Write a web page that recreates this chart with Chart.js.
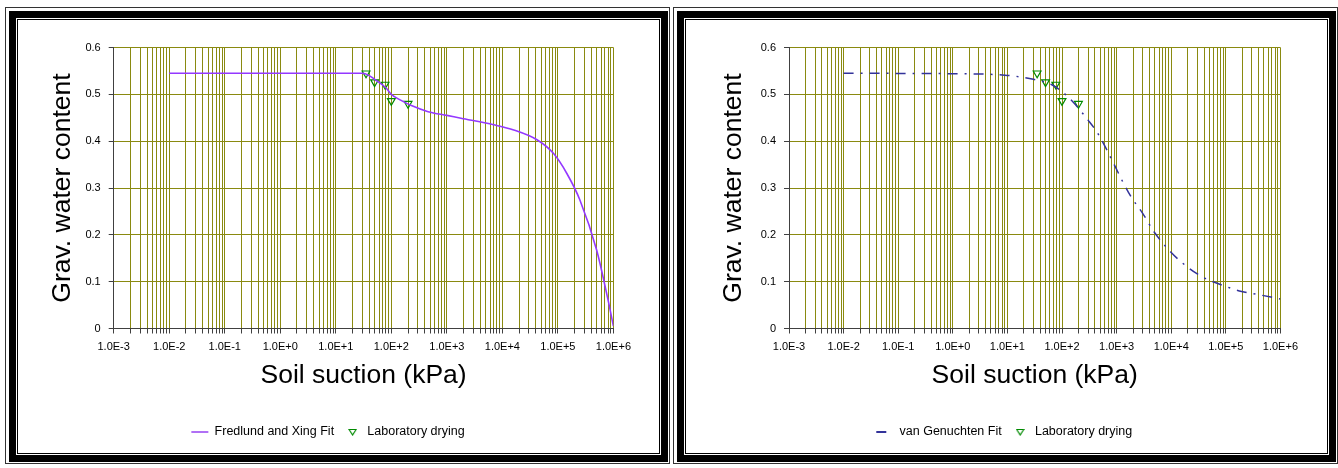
<!DOCTYPE html>
<html>
<head>
<meta charset="utf-8">
<script src="https://cdn.jsdelivr.net/npm/chart.js@4.4.1/dist/chart.umd.min.js"></script>
<style>
  html, body { margin: 0; padding: 0; background: #fff; }
  body { position: relative; width: 1338px; height: 468px; overflow: hidden; font-family: "Liberation Sans", Arial, sans-serif; }
  .frame { position: absolute; top: 7px; width: 665px; height: 457px; box-sizing: border-box;
           border: 1px solid #333; padding: 3px 1px 1px 3px; background: #fff; }
  .thick { height: 100%; box-sizing: border-box; border: 7px solid #000; padding: 1px; }
  .thin { height: 100%; box-sizing: border-box; border: 1px solid #000; background: #fff; }
  canvas { position: absolute; top: 20px; }
</style>
</head>
<body>
<div class="frame" style="left:5px"><div class="thick"><div class="thin"></div></div></div>
<div class="frame" style="left:673px"><div class="thick"><div class="thin"></div></div></div>
<canvas id="fxChart" width="620" height="432" style="left:18px"></canvas>
<canvas id="vgChart" width="619" height="432" style="left:686px"></canvas>
<script>
// Eixo x logarítmico: décadas e rótulos no formato do Excel
const xDecades = [-3, -2, -1, 0, 1, 2, 3, 4, 5, 6];
const xTickLabels = ['1.0E-3', '1.0E-2', '1.0E-1', '1.0E+0', '1.0E+1', '1.0E+2', '1.0E+3', '1.0E+4', '1.0E+5', '1.0E+6'];

// Ajuste de Fredlund e Xing (sucção kPa / teor de umidade gravimétrico)
const fxSuction = [0.01, 30, 40, 50, 80, 100, 150, 230, 460, 1000, 1800, 7000, 16000, 42000, 83000, 145000, 250000, 500000, 800000, 1000000];
const fxWater = [0.545, 0.545, 0.540, 0.532, 0.514, 0.500, 0.487, 0.476, 0.463, 0.455, 0.449, 0.435, 0.424, 0.403, 0.374, 0.331, 0.274, 0.167, 0.061, 0.005];

// Ajuste de van Genuchten
const vgSuction = [0.01, 1, 9, 30, 64, 128, 300, 450, 1800, 3000, 4800, 9700, 19500, 39000, 104000, 195000, 370000, 1000000];
const vgWater = [0.545, 0.544, 0.541, 0.532, 0.521, 0.495, 0.445, 0.417, 0.283, 0.246, 0.207, 0.164, 0.132, 0.109, 0.089, 0.079, 0.073, 0.063];

// Ensaio de laboratório (secagem)
const labSuction = [35, 50, 77, 100, 200];
const labWater = [0.545, 0.526, 0.521, 0.486, 0.480];

const FONT = '"Liberation Sans", Arial, sans-serif';
const GRID = '#8a8a10';
const AXIS = '#404040';
const LAB_GREEN = '#008a00';

const toPoints = (xs, ys) => xs.map((x, i) => ({ x, y: ys[i] }));

// marcas menores 1..9 em cada década
const xTickValues = [];
xDecades.forEach((d, i) => {
    if (i === xDecades.length - 1) { xTickValues.push(Math.pow(10, d)); return; }
    for (let m = 1; m <= 9; m++) xTickValues.push(m * Math.pow(10, d));
});

const xLabel = (value) => {
    const e = Math.round(Math.log10(value));
    if (Math.abs(value - Math.pow(10, e)) > Math.pow(10, e) * 1e-6) return '';
    return xTickLabels[xDecades.indexOf(e)];
};

// triângulo pequeno para a legenda (o estilo 'triangle' esticaria com pointStyleWidth)
const legendTriangle = document.createElement('canvas');
legendTriangle.width = 9;
legendTriangle.height = 8;
(() => {
    const c = legendTriangle.getContext('2d');
    c.strokeStyle = LAB_GREEN;
    c.lineWidth = 1.2;
    c.beginPath();
    c.moveTo(1, 1.5);
    c.lineTo(8, 1.5);
    c.lineTo(4.5, 7);
    c.closePath();
    c.stroke();
})();

const buildChart = (id, fit, p) => {
    const ctx = document.getElementById(id);
    return new Chart(ctx, {
        type: 'line',
        data: {
            datasets: [{
                label: fit.label,
                data: toPoints(fit.x, fit.y),
                borderColor: fit.color,
                borderWidth: fit.width,
                borderDash: fit.dash,
                pointRadius: 0,
                cubicInterpolationMode: 'monotone',
                fill: false
            }, {
                label: 'Laboratory drying',
                data: toPoints(labSuction, labWater),
                showLine: false,
                pointStyle: 'triangle',
                rotation: 180,
                pointRadius: 4.5,
                pointBorderWidth: 1.2,
                borderColor: LAB_GREEN,
                pointBorderColor: LAB_GREEN,
                pointBackgroundColor: 'rgba(0,0,0,0)',
                backgroundColor: 'rgba(0,0,0,0)'
            }]
        },
        options: {
            responsive: false,
            animation: false,
            layout: { padding: { left: p.padLeft, right: 21, top: 27.5, bottom: 3.75 } },
            plugins: {
                tooltip: { enabled: false },
                legend: {
                    position: 'bottom',
                    labels: {
                        usePointStyle: true,
                        pointStyleWidth: 17,
                        boxHeight: 5,
                        padding: 10,
                        color: '#000',
                        font: { family: FONT, size: 12.5 },
                        generateLabels: (chart) => chart.data.datasets.map((ds, i) => ({
                            text: ds.label,
                            datasetIndex: i,
                            pointStyle: i === 0 ? 'line' : legendTriangle,
                            rotation: 0,
                            strokeStyle: i === 0 ? fit.legendColor : ds.borderColor,
                            fillStyle: 'rgba(0,0,0,0)',
                            lineWidth: i === 0 ? 2 : 1.2,
                            lineDash: i === 0 ? (fit.dash || []) : [],
                            fontColor: '#000'
                        }))
                    }
                }
            },
            scales: {
                x: {
                    type: 'logarithmic',
                    min: 1e-3,
                    max: 1e6,
                    afterBuildTicks: (scale) => { scale.ticks = xTickValues.map(v => ({ value: v })); },
                    afterFit: (scale) => { scale.height = 87.25; },
                    grid: { color: GRID, lineWidth: 1, tickLength: 5, tickColor: AXIS },
                    border: { color: AXIS, width: 1 },
                    ticks: {
                        autoSkip: false,
                        maxRotation: 0,
                        padding: 7,
                        color: '#000',
                        font: { family: FONT, size: 11 },
                        callback: (value) => xLabel(value)
                    },
                    title: {
                        display: true,
                        text: 'Soil suction (kPa)',
                        color: '#000',
                        font: { family: FONT, size: 26.5 },
                        padding: { top: 0, bottom: 24 }
                    }
                },
                y: {
                    min: 0,
                    max: 0.6,
                    afterFit: (scale) => { scale.width = p.yWidth; },
                    grid: { color: GRID, lineWidth: 1, tickLength: 5, tickColor: AXIS },
                    border: { color: AXIS, width: 1 },
                    ticks: {
                        stepSize: 0.1,
                        padding: 8,
                        color: '#000',
                        font: { family: FONT, size: 11 }
                    },
                    title: {
                        display: true,
                        text: 'Grav. water content',
                        color: '#000',
                        font: { family: FONT, size: 26.5 },
                        padding: { top: p.titlePad, bottom: 0 }
                    }
                }
            }
        }
    });
};

buildChart('fxChart', {
    label: 'Fredlund and Xing Fit',
    x: fxSuction, y: fxWater,
    color: '#9438ff', legendColor: '#b070f5', width: 1.6, dash: []
}, { padLeft: 21, yWidth: 74.7, titlePad: 8 });

buildChart('vgChart', {
    label: 'van Genuchten Fit',
    x: vgSuction, y: vgWater,
    color: '#33339a', legendColor: '#33339a', width: 1.5, dash: [10, 7, 2, 7]
}, { padLeft: 38.5, yWidth: 64.5, titlePad: -6.3 });
</script>
</body>
</html>
